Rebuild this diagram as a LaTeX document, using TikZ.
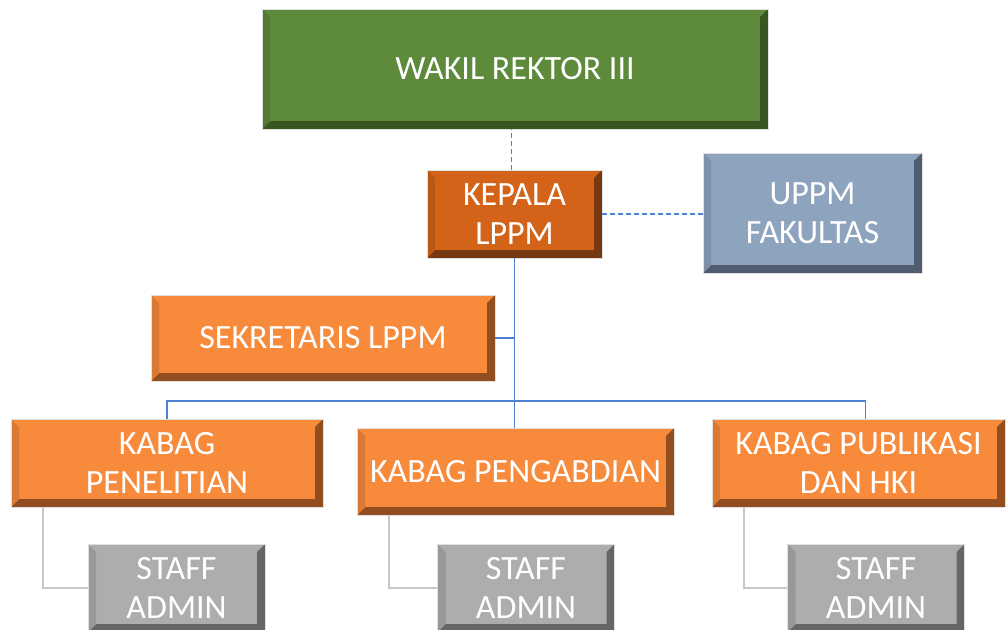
\documentclass[tikz,border=0pt]{standalone}
\usepackage{fontspec}
\setmainfont{Carlito}
\usetikzlibrary{calc}
\definecolor{wakilgreen}{RGB}{94,139,59}
\definecolor{wakildark}{RGB}{56,86,34}
\definecolor{kepalaorange}{RGB}{211,99,25}
\definecolor{kepaladark}{RGB}{118,56,16}
\definecolor{uppmblue}{RGB}{142,163,190}
\definecolor{uppmdark}{RGB}{80,93,111}
\definecolor{kabagorange}{RGB}{248,138,59}
\definecolor{kabagdark}{RGB}{146,78,32}
\definecolor{staffgray}{RGB}{173,173,173}
\definecolor{staffdark}{RGB}{102,102,102}
\definecolor{linkblue}{RGB}{79,129,209}
\tikzset{>=stealth,
  box/.style 2 args={draw=black!12, line width=0.8pt, fill=#1, text=white,
    align=center, inner sep=0pt, font=\fontsize{34}{39}\selectfont,
    path picture={
      \fill[#2] (path picture bounding box.south west) -- (path picture bounding box.south east)
        -- (path picture bounding box.north east) -- ++(-8pt,-8pt)
        -- ([shift={(-8pt,8pt)}]path picture bounding box.south east)
        -- ([shift={(8pt,8pt)}]path picture bounding box.south west) -- cycle;
      \fill[#1!88!black] (path picture bounding box.south west) -- (path picture bounding box.north west)
        -- ++(8pt,-8pt) -- ([shift={(8pt,8pt)}]path picture bounding box.south west) -- cycle;
    }},
  dashlink/.style={linkblue, line width=1.8pt, dash pattern=on 5pt off 3pt},
  link/.style={linkblue, line width=1.8pt},
  stafflink/.style={black!22, line width=1.8pt}
}

\begin{document}
\begin{tikzpicture}[x=1pt, y=-1pt]
\useasboundingbox (0,0) rectangle (1008,629);
\clip (0,0) rectangle (1008,629);
\node[box={wakilgreen}{wakildark}, minimum width=506pt, minimum height=120pt] (wakil) at (515,69) {WAKIL REKTOR III};
\node[box={kepalaorange}{kepaladark}, minimum width=175pt, minimum height=88pt] (kepala) at (514.5,214) {KEPALA\\LPPM};
\node[box={uppmblue}{uppmdark}, minimum width=219pt, minimum height=120pt] (uppm) at (812.5,213) {UPPM\\FAKULTAS};
\node[box={kabagorange}{kabagdark}, minimum width=344pt, minimum height=86pt] (sekretaris) at (323,338) {SEKRETARIS LPPM};
\node[box={kabagorange}{kabagdark}, minimum width=312pt, minimum height=88pt] (penelitian) at (167,463) {KABAG\\PENELITIAN};
\node[box={kabagorange}{kabagdark}, minimum width=317pt, minimum height=87pt] (pengabdian) at (515.5,471.5) {KABAG PENGABDIAN};
\node[box={kabagorange}{kabagdark}, minimum width=293pt, minimum height=88pt] (publikasi) at (858.5,463) {KABAG PUBLIKASI\\DAN HKI};
\node[box={staffgray}{staffdark}, minimum width=177pt, minimum height=88pt] (staffa) at (176.5,588) {STAFF\\ADMIN};
\node[box={staffgray}{staffdark}, minimum width=177pt, minimum height=88pt] (staffb) at (526,588) {STAFF\\ADMIN};
\node[box={staffgray}{staffdark}, minimum width=177pt, minimum height=88pt] (staffc) at (876,588) {STAFF\\ADMIN};

\draw[dashlink] ([xshift=-3pt]kepala.north) -- ([xshift=-3pt]kepala.north |- wakil.south);
\draw[dashlink] (kepala.east) -- (uppm.west |- kepala.east);
\draw[link] (kepala.south) -- (kepala.south |- pengabdian.north);
\draw[link] (sekretaris.east) -- (sekretaris.east -| kepala.south);
\draw[link] (penelitian.north) -- ++(0,-18) -| ([xshift=7pt]publikasi.north);
\draw[stafflink] ([xshift=32pt]penelitian.south west) |- (staffa.west);
\draw[stafflink] ([xshift=32pt]pengabdian.south west) |- (staffb.west);
\draw[stafflink] ([xshift=32pt]publikasi.south west) |- (staffc.west);
\end{tikzpicture}
\end{document}
